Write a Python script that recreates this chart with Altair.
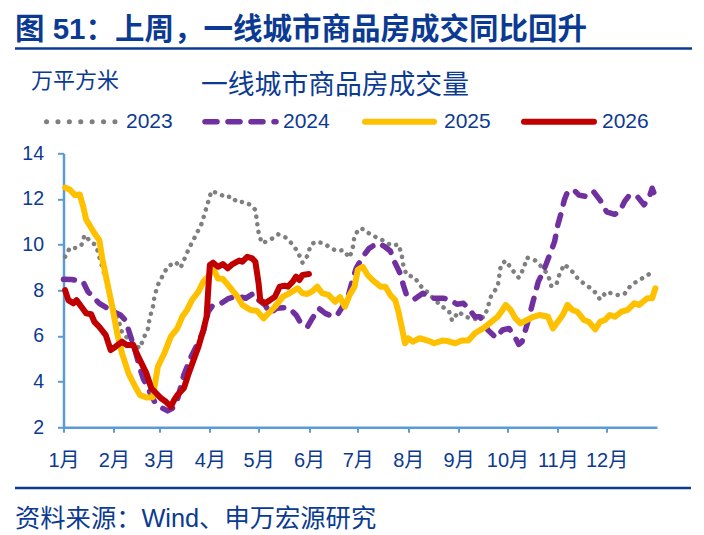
import altair as alt
import pandas as pd

# ---- axis categories ----
month_starts = [0, 31, 59, 90, 120, 151, 181, 212, 243, 273, 304, 334]
month_labels = ["1月", "2月", "3月", "4月", "5月", "6月", "7月", "8月", "9月", "10月", "11月", "12月"]
y_ticks = [2, 4, 6, 8, 10, 12, 14]

# ---- series: day of year / weekly-smoothed transaction area (10k m²) ----
day_2023 = [1, 4, 8, 11, 13, 17, 20, 22, 26, 29, 31, 34, 36, 38, 41, 44, 47, 49, 52, 53,
            55, 56, 58, 61, 64, 69, 72, 75, 77, 79, 82, 85, 87, 89, 91, 96, 100, 103, 107, 111,
            115, 118, 119, 120, 122, 127, 132, 137, 141, 144, 147, 150, 152, 155, 160, 164, 168, 172, 176, 178,
            179, 182, 185, 189, 194, 202, 206, 208, 209, 211, 216, 219, 224, 228, 233, 237, 239, 243, 247, 253,
            259, 261, 263, 267, 268, 269, 272, 276, 280, 283, 285, 290, 295, 298, 300, 303, 305, 308, 313, 317,
            322, 326, 330, 334, 340, 345, 349, 354, 360, 363]
val_2023 = [9.47, 9.87, 9.85, 9.98, 10.42, 10.1, 9.98, 9.47, 8.5, 7.57, 7.14, 6.65, 6.16, 6.0, 5.8, 5.6, 5.46, 5.86, 6.33, 6.8,
            7.28, 7.75, 8.23, 8.64, 9.03, 9.24, 8.99, 9.47, 9.81, 10.08, 10.5, 10.93, 11.4, 11.88, 12.35, 12.22, 12.06, 12.12, 11.85, 11.88,
            11.74, 11.52, 11.0, 10.52, 10.06, 10.2, 10.45, 10.3, 10.0, 9.69, 9.21, 9.51, 9.98, 10.13, 10.06, 9.87, 9.72, 9.76, 9.43, 9.91,
            10.39, 10.71, 10.67, 10.42, 10.28, 9.95, 10.01, 9.55, 9.08, 8.67, 8.57, 8.23, 7.9, 7.6, 7.28, 7.1, 6.67, 7.06, 6.84, 6.74,
            6.84, 7.28, 7.76, 8.16, 8.64, 9.11, 9.3, 8.89, 8.55, 8.96, 9.43, 9.31, 8.96, 8.67, 8.19, 8.23, 8.7, 9.14, 8.81, 8.45,
            8.2, 8.0, 7.6, 7.94, 7.79, 7.84, 8.23, 8.44, 8.7, 8.7]

day_2024 = [0, 5, 12, 15, 19, 22, 27, 31, 35, 38, 41, 44, 47, 49, 53, 56, 61, 64, 67, 70,
            74, 78, 82, 86, 89, 92, 97, 101, 107, 112, 117, 120, 124, 127, 131, 135, 139, 143, 146, 150,
            153, 157, 161, 166, 169, 171, 175, 178, 180, 184, 188, 193, 197, 201, 203, 207, 209, 211, 216, 221,
            227, 234, 238, 242, 246, 249, 253, 256, 261, 266, 270, 274, 278, 280, 282, 285, 289, 292, 295, 299,
            302, 304, 306, 308, 310, 314, 317, 322, 326, 330, 334, 339, 342, 345, 348, 353, 357, 360, 362, 364]
val_2024 = [8.48, 8.47, 8.38, 7.94, 7.65, 7.43, 7.21, 7.06, 6.92, 6.7, 6.04, 5.38, 4.58, 4.14, 3.56, 3.12, 2.83, 2.72, 2.83, 3.2,
            4.29, 5.02, 5.6, 6.19, 7.06, 7.36, 7.43, 7.62, 7.76, 7.65, 7.87, 7.57, 7.36, 6.99, 7.21, 7.24, 7.21, 6.92, 6.55, 6.4,
            6.77, 7.21, 6.99, 6.84, 6.99, 7.21, 7.72, 8.52, 8.96, 9.47, 9.84, 10.06, 9.94, 9.72, 9.33, 8.74, 8.23, 7.79, 7.62, 7.87,
            7.65, 7.65, 7.57, 7.39, 7.43, 7.21, 6.84, 6.84, 6.26, 5.92, 6.26, 6.33, 5.9, 5.63, 5.75, 6.48, 7.57, 8.38, 8.81, 9.55,
            10.13, 10.86, 11.37, 11.95, 12.32, 12.39, 12.17, 12.1, 12.32, 11.95, 11.44, 11.33, 11.44, 11.88, 12.17, 12.1, 11.74, 12.03, 12.47, 12.1]

day_2025 = [1, 4, 7, 10, 12, 14, 16, 19, 22, 24, 27, 30, 33, 36, 40, 43, 47, 51, 55, 56,
            58, 62, 66, 70, 73, 76, 79, 83, 86, 89, 92, 95, 98, 102, 107, 110, 115, 119, 123, 126,
            130, 135, 139, 144, 147, 150, 153, 156, 159, 163, 167, 170, 173, 176, 179, 181, 184, 187, 190, 195,
            198, 201, 204, 206, 208, 210, 212, 215, 219, 224, 228, 233, 236, 241, 245, 249, 253, 258, 262, 267,
            270, 272, 275, 278, 281, 285, 289, 293, 298, 301, 304, 307, 310, 313, 316, 320, 323, 327, 330, 333,
            336, 339, 343, 347, 351, 354, 359, 362, 364]
val_2025 = [12.5, 12.4, 12.17, 12.2, 11.7, 11.08, 10.86, 10.5, 10.2, 9.33, 8.3, 7.28, 6.12, 5.24, 4.36, 3.93, 3.41, 3.31, 3.32, 3.78,
            4.65, 5.24, 5.97, 6.33, 6.84, 7.14, 7.57, 7.94, 8.38, 8.6, 8.96, 8.52, 8.5, 8.16, 7.72, 7.36, 7.14, 7.1, 6.77, 6.99,
            7.28, 7.72, 7.87, 8.09, 7.87, 7.84, 7.95, 8.16, 7.88, 7.8, 7.5, 7.7, 7.28, 7.8, 8.16, 8.9, 9.03, 8.67, 8.45, 8.16,
            8.16, 7.79, 7.57, 7.06, 6.4, 5.68, 5.9, 5.75, 5.9, 5.8, 5.68, 5.8, 5.78, 5.68, 5.8, 5.8, 6.12, 6.33, 6.55, 6.84,
            7.14, 7.36, 7.14, 6.77, 6.55, 6.7, 6.84, 6.92, 6.84, 6.33, 6.62, 6.92, 7.36, 7.14, 7.06, 6.7, 6.62, 6.29, 6.62, 6.7,
            6.92, 6.84, 7.06, 7.14, 7.43, 7.36, 7.65, 7.65, 8.09]

day_2026 = [1, 3, 6, 8, 11, 14, 17, 19, 22, 26, 29, 32, 36, 39, 43, 45, 48, 51, 54, 57,
            60, 63, 66, 68, 70, 74, 77, 80, 83, 86, 88, 89, 90, 92, 95, 98, 101, 104, 108, 110,
            113, 116, 118, 120, 121, 124, 127, 130, 133, 136, 138, 141, 143, 145, 147, 151]
val_2026 = [8.01, 7.57, 7.43, 7.57, 7.28, 6.99, 6.95, 6.62, 6.4, 6.04, 5.38, 5.53, 5.75, 5.6, 5.6, 5.24, 4.8, 4.36, 3.71, 3.49,
            3.27, 3.12, 2.9, 3.19, 3.41, 3.71, 4.36, 4.95, 5.53, 6.26, 6.84, 8.01, 9.11, 9.21, 9.03, 9.15, 8.96, 9.15, 9.3, 9.25,
            9.47, 9.4, 9.25, 8.3, 7.57, 7.43, 7.57, 7.72, 8.16, 8.2, 8.16, 8.38, 8.6, 8.45, 8.67, 8.71]

# ---- styling ----
NAVY = "#0B3A92"
AXIS_BLUE = "#5B9BD5"
FONT = "Liberation Sans, Noto Sans CJK SC"
W, H = 704, 535
LEFT, TOP = 63.5, 153.3          # plot origin on the page
PW, PH = 593.5, 274              # plot area

x_scale = alt.Scale(domain=[0, 365], nice=False, zero=False)
y_scale = alt.Scale(domain=[2, 14], nice=False, zero=False)
label_expr = "[" + ",".join(f"'{m}'" for m in month_labels) + "][indexof([" + \
    ",".join(str(d) for d in month_starts) + "], datum.value)]"
x_axis = alt.Axis(values=month_starts, labelExpr=label_expr, title=None, grid=False,
                  domainColor=AXIS_BLUE, domainWidth=2.5, tickColor=AXIS_BLUE, tickWidth=2,
                  tickSize=5, labelColor=NAVY, labelFont=FONT, labelFontSize=20,
                  labelBaseline="middle", labelPadding=28, labelAlign="center", labelFlush=False)
y_axis = alt.Axis(values=y_ticks, title=None, grid=False,
                  domainColor=AXIS_BLUE, domainWidth=2.5, tickColor=AXIS_BLUE, tickWidth=2,
                  tickSize=6, labelColor=NAVY, labelFont=FONT, labelFontSize=19.5,
                  labelPadding=14, labelFlush=False)


def series(days, vals, **mark_kw):
    df = pd.DataFrame({"day": days, "value": vals})
    return alt.Chart(df).mark_line(strokeJoin="round", **mark_kw).encode(
        x=alt.X("day:Q", scale=x_scale, axis=x_axis),
        y=alt.Y("value:Q", scale=y_scale, axis=y_axis),
    )


def text_at(txt, px, py, size, align="left", weight="normal"):
    return alt.Chart(pd.DataFrame({"t": [txt]})).mark_text(
        font=FONT, fontSize=size, fontWeight=weight, color=NAVY,
        align=align, baseline="middle",
    ).encode(x=alt.value(px - LEFT), y=alt.value(py - TOP), text="t:N")


def hline(px1, px2, py, color, width, **kw):
    return alt.Chart(pd.DataFrame({"k": [0]})).mark_rule(
        color=color, strokeWidth=width, **kw
    ).encode(x=alt.value(px1 - LEFT), x2=alt.value(px2 - LEFT), y=alt.value(py - TOP))


lines = [
    series(day_2023, val_2023, color="#7F7F7F", strokeWidth=4.5, strokeDash=[0.1, 7.6], strokeCap="round"),
    series(day_2024, val_2024, color="#7030A0", strokeWidth=5.5, strokeDash=[11, 11], strokeCap="round"),
    series(day_2025, val_2025, color="#FFC000", strokeWidth=6, strokeCap="round"),
    series(day_2026, val_2026, color="#C00000", strokeWidth=6, strokeCap="round"),
]

# header, legend, footer
LEG_Y = 121.7
decor = [
    text_at("图 51：上周，一线城市商品房成交同比回升", 15, 30, 29.5, weight="bold"),
    hline(15, 692, 48.5, NAVY, 2.5),
    text_at("万平方米", 31, 81, 22),
    text_at("一线城市商品房成交量", 201, 85.5, 26.8),
    hline(46.5, 115, LEG_Y, "#7F7F7F", 5, strokeDash=[0.1, 11.3], strokeCap="round"),
    text_at("2023", 126, LEG_Y, 21),
    hline(205, 276, LEG_Y, "#7030A0", 5.5, strokeDash=[12, 11], strokeCap="round"),
    text_at("2024", 283, LEG_Y, 21),
    hline(365, 434, LEG_Y, "#FFC000", 6, strokeCap="round"),
    text_at("2025", 444, LEG_Y, 21),
    hline(524, 594, LEG_Y, "#C00000", 6, strokeCap="round"),
    text_at("2026", 602, LEG_Y, 21),
    hline(15, 691, 488, NAVY, 2.5),
    text_at("资料来源：Wind、申万宏源研究", 15, 518.5, 25.3),
]

chart = alt.layer(*lines, *decor).properties(
    width=PW, height=PH,
    autosize=alt.AutoSizeParams(type="none"),
    padding={"left": LEFT, "top": TOP, "right": W - LEFT - PW, "bottom": H - TOP - PH},
    background="white",
).configure_view(stroke=None).configure_axis(labelOverlap=False)

chart.save("out.html", embed_options={"renderer": "svg", "actions": False})
